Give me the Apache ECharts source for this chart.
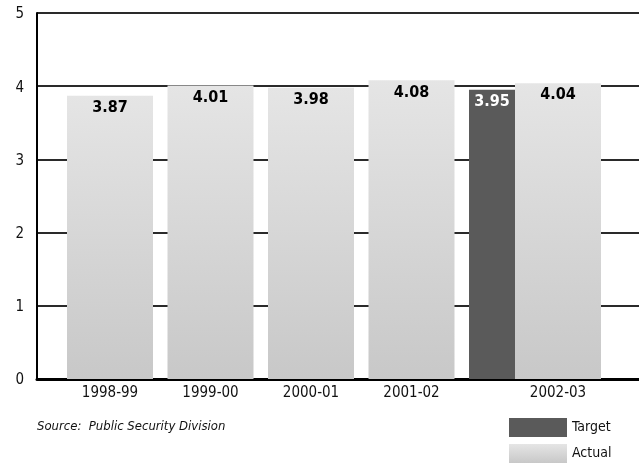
<!DOCTYPE html>
<html>
<head>
<meta charset="utf-8">
<style>
  html, body { margin: 0; padding: 0; background: #fff; }
  #chart { width: 639px; height: 463px; }
</style>
<script src="https://cdn.jsdelivr.net/npm/echarts@6/dist/echarts.min.js"></script>
</head>
<body>
<div id="chart"></div>
<script>
// Fiscal years and measured results
const categories = ['1998-99', '1999-00', '2000-01', '2001-02', '2002-03'];
const actualValues = [3.87, 4.01, 3.98, 4.08, 4.04];
// Target exists only for the latest year
const targetValues = [null, null, null, null, 3.95];
const yTicks = [0, 1, 2, 3, 4, 5];
const sourceNote = 'Source:  Public Security Division';

// Layout (pixels): each year takes one slot; the latest year puts the
// narrower target bar in front of its actual bar.
const SLOT_PX = 100.5;
const BAR_PX = 86;
const TARGET_PX = 46;
const GRID_LEFT = 37;
const GRID_W = 602;
const FIRST_CENTER_PX = 110;

const xMin = -(FIRST_CENTER_PX - GRID_LEFT) / SLOT_PX;
const xMax = xMin + GRID_W / SLOT_PX;
const halfBar = BAR_PX / 2 / SLOT_PX;
const tW = TARGET_PX / SLOT_PX;
const bW = BAR_PX / SLOT_PX;

// x position (in slot units) of each bar
function actualPos(i) {
  return targetValues[i] == null ? i : i - halfBar + tW + bW / 2;
}
function targetPos(i) {
  return i - halfBar + tW / 2;
}

const actualData = actualValues.map((v, i) => [actualPos(i), v]);
const targetData = targetValues
  .map((v, i) => (v == null ? null : [targetPos(i), v]))
  .filter(d => d);
const labelPositions = categories.map((c, i) => actualPos(i));

function nameAt(x) {
  let best = 0;
  labelPositions.forEach((p, i) => {
    if (Math.abs(p - x) < Math.abs(labelPositions[best] - x)) best = i;
  });
  return categories[best];
}

const FONT = '"DejaVu Sans Condensed", "Liberation Sans", sans-serif';

const actualFill = new echarts.graphic.LinearGradient(0, 0, 0, 1, [
  { offset: 0, color: '#e5e5e5' },
  { offset: 1, color: '#c8c8c8' }
]);

const chart = echarts.init(document.getElementById('chart'), null, { renderer: 'canvas' });

chart.setOption({
  animation: false,
  backgroundColor: '#fff',
  title: {
    text: sourceNote,
    left: 37,
    top: 420,
    padding: 0,
    textStyle: {
      fontFamily: FONT,
      fontStyle: 'italic',
      fontWeight: 'normal',
      fontSize: 13,
      color: '#111'
    }
  },
  legend: {
    orient: 'vertical',
    left: 509,
    top: 418,
    padding: 0,
    itemWidth: 58,
    itemHeight: 19,
    itemGap: 7,
    icon: 'rect',
    data: ['Target', 'Actual'],
    textStyle: { fontFamily: FONT, fontSize: 14, color: '#111' }
  },
  grid: { left: GRID_LEFT, right: 639 - GRID_LEFT - GRID_W, top: 13, bottom: 84, containLabel: false },
  xAxis: [
    {
      type: 'value',
      min: xMin,
      max: xMax,
      axisLine: { show: true, onZero: false, lineStyle: { color: '#000', width: 3 } },
      axisTick: { show: false },
      splitLine: { show: false },
      axisLabel: {
        customValues: labelPositions,
        formatter: v => nameAt(v),
        margin: 7,
        fontFamily: FONT,
        fontSize: 15,
        color: '#111'
      }
    },
    {
      type: 'value',
      min: xMin,
      max: xMax,
      show: false
    }
  ],
  yAxis: {
    type: 'value',
    min: yTicks[0],
    max: yTicks[yTicks.length - 1],
    interval: 1,
    axisLine: { show: true, onZero: false, lineStyle: { color: '#000', width: 2 } },
    axisTick: { show: false },
    axisLabel: {
      margin: 13,
      verticalAlign: 'top',
      padding: [-6, 0, 0, 0],
      fontFamily: FONT,
      fontSize: 15,
      color: '#111'
    },
    splitLine: { show: true, lineStyle: { color: '#2a2a2a', width: 2 } }
  },
  series: [
    {
      name: 'Target',
      type: 'bar',
      xAxisIndex: 1,
      barWidth: TARGET_PX,
      data: targetData,
      itemStyle: { color: '#5a5a5a' },
      label: {
        show: true,
        position: 'insideTop',
        distance: 4,
        formatter: p => p.value[1].toFixed(2),
        fontFamily: FONT,
        fontWeight: 'bold',
        fontSize: 16,
        color: '#fff'
      },
      z: 3
    },
    {
      name: 'Actual',
      type: 'bar',
      xAxisIndex: 0,
      barWidth: BAR_PX,
      data: actualData,
      itemStyle: { color: actualFill },
      label: {
        show: true,
        position: 'insideTop',
        distance: 4,
        formatter: p => p.value[1].toFixed(2),
        fontFamily: FONT,
        fontWeight: 'bold',
        fontSize: 16,
        color: '#000'
      },
      z: 3
    }
  ]
});
</script>
</body>
</html>
